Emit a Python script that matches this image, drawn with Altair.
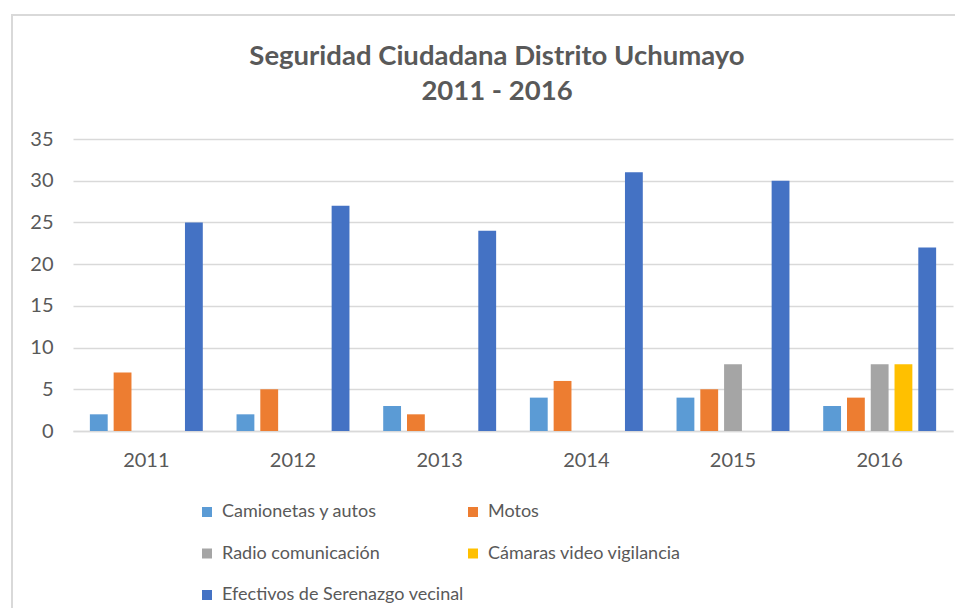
import altair as alt
import pandas as pd

years = ["2011", "2012", "2013", "2014", "2015", "2016"]
series = ["Camionetas y autos", "Motos", "Radio comunicación",
          "Cámaras video vigilancia", "Efectivos de Serenazgo vecinal"]
camionetas = [2, 2, 3, 4, 4, 3]
motos = [7, 5, 2, 6, 5, 4]
radio = [None, None, None, None, 8, 8]
camaras = [None, None, None, None, None, 8]
efectivos = [25, 27, 24, 31, 30, 22]
colors = ["#5B9BD5", "#ED7D31", "#A5A5A5", "#FFC000", "#4472C4"]
y_ticks = [0, 5, 10, 15, 20, 25, 30, 35]
title_lines = ["Seguridad Ciudadana Distrito Uchumayo", "2011 - 2016"]

# legend fills column by column, so order entries to read row by row like the reference
legend_order = [series[0], series[2], series[4], series[1], series[3]]
legend_colors = [colors[series.index(s)] for s in legend_order]

rows = []
for s, vals in zip(series, [camionetas, motos, radio, camaras, efectivos]):
    for y, v in zip(years, vals):
        if v is not None:
            rows.append({"Año": y, "Serie": s, "Valor": v})
df = pd.DataFrame(rows)

FONT = "Lato"
GREY = "#595959"

bars = alt.Chart(df).mark_bar().encode(
    x=alt.X("Año:N", sort=years, title=None,
            scale=alt.Scale(paddingInner=0.23, paddingOuter=0.115),
            axis=alt.Axis(labelAngle=0, labelFontSize=20, labelColor=GREY, labelFont=FONT,
                          labelPadding=19, ticks=False, domain=True, domainColor="#d9d9d9",
                          domainWidth=1.5)),
    xOffset=alt.XOffset("Serie:N", sort=series,
                        scale=alt.Scale(domain=series, paddingInner=0.25, paddingOuter=0)),
    y=alt.Y("Valor:Q", title=None,
            scale=alt.Scale(domain=[0, 35], nice=False),
            axis=alt.Axis(values=y_ticks, labelFontSize=20, labelColor=GREY, labelFont=FONT,
                          labelPadding=20, ticks=False, domain=False, gridColor="#d9d9d9",
                          gridWidth=1.5)),
    color=alt.Color("Serie:N",
                    scale=alt.Scale(domain=legend_order, range=legend_colors),
                    legend=alt.Legend(title=None, orient="none", legendX=125, legendY=364,
                                      columns=2, symbolType="square", symbolSize=100,
                                      symbolStrokeWidth=0, labelFontSize=18, labelFont=FONT,
                                      labelColor=GREY, labelOffset=6, rowPadding=23.5,
                                      columnPadding=-12, labelLimit=400)),
)

border = alt.Chart(pd.DataFrame({"a": [0]})).mark_rect(
    fill="transparent", stroke="#d9d9d9", strokeWidth=2
).encode(x=alt.value(-61), x2=alt.value(1200), y=alt.value(-124), y2=alt.value(1000))

chart = alt.layer(border, bars).properties(
    width=880, height=292,
    autosize=alt.AutoSizeParams(type="none"),
    padding={"left": 65, "top": 131, "right": 2, "bottom": 177},
    title=alt.Title(title_lines, font=FONT, fontSize=27.5, fontWeight="bold", color=GREY,
                    anchor="middle", dx=-16, offset=-91, lineHeight=35),
).configure_view(stroke=None)

chart.save("out.html", embed_options={"renderer": "svg", "actions": False})
